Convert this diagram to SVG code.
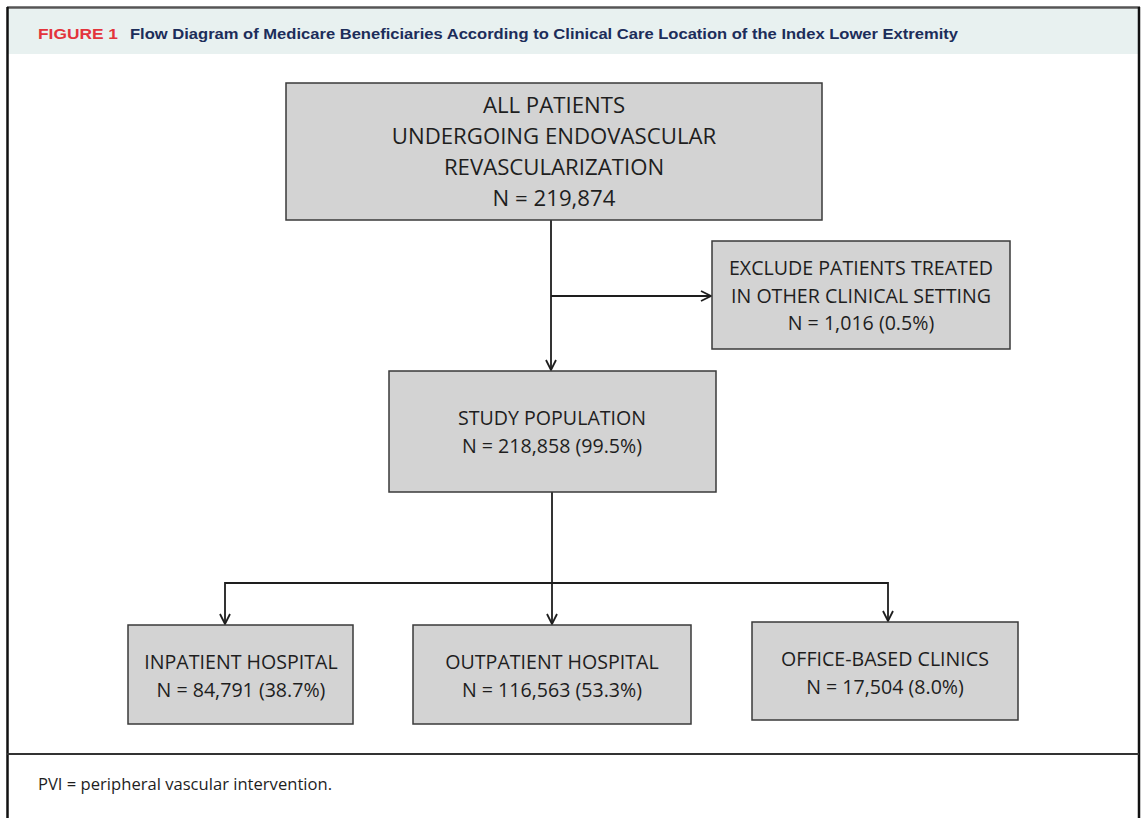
<svg xmlns="http://www.w3.org/2000/svg" width="1142" height="818" viewBox="0 0 1142 818">
<defs>
<style>
.box{fill:#d3d3d3;stroke:#3a3a3a;stroke-width:1.5}
.t{font-family:"Open Sans","Noto Sans","Liberation Sans",sans-serif;fill:#1e1e1e;text-anchor:middle}
.big{font-size:22.2px}
.mid{font-size:19.6px}
.conn{fill:none;stroke:#1e1e1e;stroke-width:1.8}
</style>
<marker id="arr" viewBox="0 0 12 12" refX="11" refY="6" markerWidth="12" markerHeight="12" markerUnits="userSpaceOnUse" orient="auto">
<path d="M1,1 L11,6 L1,11" fill="none" stroke="#1e1e1e" stroke-width="1.8"/>
</marker>
</defs>
<rect x="0" y="0" width="1142" height="818" fill="#ffffff"/>
<g id="frame">
<rect x="8" y="9" width="1130" height="45" fill="#e8f1f0"/>
<line x1="7" y1="7.5" x2="1140" y2="7.5" stroke="#555" stroke-width="2.5"/>
<line x1="7.5" y1="7" x2="7.5" y2="818" stroke="#111" stroke-width="2.5"/>
<line x1="1139" y1="7" x2="1139" y2="818" stroke="#111" stroke-width="2.5"/>
<line x1="7" y1="754" x2="1139" y2="754" stroke="#333" stroke-width="2"/>
<text x="38" y="38.5" font-family="Liberation Sans, Arial, sans-serif" font-weight="bold" font-size="14" fill="#e3343c" textLength="80" lengthAdjust="spacingAndGlyphs">FIGURE 1</text>
<text x="130" y="38.5" font-family="Liberation Sans, Arial, sans-serif" font-weight="bold" font-size="15.5" fill="#1c2d5a" textLength="828" lengthAdjust="spacingAndGlyphs">Flow Diagram of Medicare Beneficiaries According to Clinical Care Location of the Index Lower Extremity</text>
<text x="38" y="790" font-family="Open Sans, Noto Sans, Liberation Sans, sans-serif" font-size="15.5" fill="#1e1e1e" textLength="294" lengthAdjust="spacingAndGlyphs">PVI = peripheral vascular intervention.</text>
</g>
<g id="connectors">
<line class="conn" x1="551" y1="220" x2="551" y2="370" marker-end="url(#arr)"/>
<line class="conn" x1="551" y1="296" x2="711" y2="296" marker-end="url(#arr)"/>
<line class="conn" x1="552" y1="492" x2="552" y2="624" marker-end="url(#arr)"/>
<polyline class="conn" points="552,583 225,583 225,624" marker-end="url(#arr)"/>
<polyline class="conn" points="552,583 888,583 888,621" marker-end="url(#arr)"/>
</g>
<g id="node-all">
<rect class="box" x="286" y="83" width="536" height="137"/>
<text class="t big" x="554" y="113">ALL PATIENTS</text>
<text class="t big" x="554" y="144">UNDERGOING ENDOVASCULAR</text>
<text class="t big" x="554" y="175">REVASCULARIZATION</text>
<text class="t big" x="554" y="206">N = 219,874</text>
</g>
<g id="node-exclude">
<rect class="box" x="712" y="241" width="298" height="108"/>
<text class="t mid" x="861" y="275">EXCLUDE PATIENTS TREATED</text>
<text class="t mid" x="861" y="303">IN OTHER CLINICAL SETTING</text>
<text class="t mid" x="861" y="330">N = 1,016 (0.5%)</text>
</g>
<g id="node-study">
<rect class="box" x="389" y="371" width="327" height="121"/>
<text class="t mid" x="552" y="425">STUDY POPULATION</text>
<text class="t mid" x="552" y="453">N = 218,858 (99.5%)</text>
</g>
<g id="node-inpatient">
<rect class="box" x="128" y="625" width="225" height="99"/>
<text class="t mid" x="241" y="669">INPATIENT HOSPITAL</text>
<text class="t mid" x="241" y="697">N = 84,791 (38.7%)</text>
</g>
<g id="node-outpatient">
<rect class="box" x="413" y="625" width="278" height="99"/>
<text class="t mid" x="552" y="669">OUTPATIENT HOSPITAL</text>
<text class="t mid" x="552" y="697">N = 116,563 (53.3%)</text>
</g>
<g id="node-office">
<rect class="box" x="752" y="622" width="266" height="98"/>
<text class="t mid" x="885" y="666">OFFICE-BASED CLINICS</text>
<text class="t mid" x="885" y="694">N = 17,504 (8.0%)</text>
</g>
</svg>
